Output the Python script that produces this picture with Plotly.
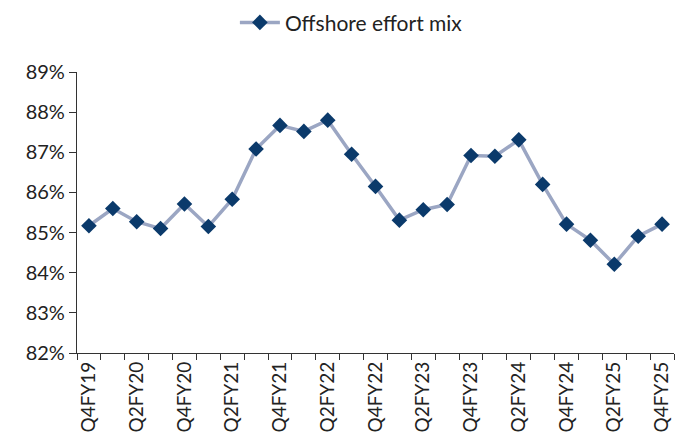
import plotly.graph_objects as go

quarters = ["Q4FY19", "Q1FY20", "Q2FY20", "Q3FY20", "Q4FY20", "Q1FY21", "Q2FY21", "Q3FY21",
            "Q4FY21", "Q1FY22", "Q2FY22", "Q3FY22", "Q4FY22", "Q1FY23", "Q2FY23", "Q3FY23",
            "Q4FY23", "Q1FY24", "Q2FY24", "Q3FY24", "Q4FY24", "Q1FY25", "Q2FY25", "Q3FY25",
            "Q4FY25"]
offshore_mix = [85.17, 85.6, 85.27, 85.1, 85.71, 85.15, 85.83, 87.08,
                87.67, 87.52, 87.8, 86.95, 86.15, 85.31, 85.57, 85.7,
                86.92, 86.9, 87.31, 86.2, 85.21, 84.81, 84.21, 84.91,
                85.21]
series_name = "Offshore effort mix"

idx = list(range(len(quarters)))
label_idx = idx[::2]
label_text = [quarters[i] for i in label_idx]

FONT = "Lato"
fig = go.Figure()
fig.add_trace(go.Scatter(
    x=idx, y=offshore_mix, name=series_name, mode="lines+markers",
    line=dict(color="#9ba6c3", width=3.5),
    marker=dict(symbol="diamond", size=12, color="#0b3a6b"),
))

fig.update_layout(
    width=689, height=446,
    margin=dict(l=77, r=15, t=72, b=93),
    paper_bgcolor="white", plot_bgcolor="white",
    font=dict(family=FONT, color="#222222", size=19),
    showlegend=True,
    legend=dict(orientation="h", xref="container", x=0.51, xanchor="center",
                yref="container", y=0.995, yanchor="top",
                font=dict(size=21, color="#222222"), itemwidth=40),
    xaxis=dict(
        range=[-0.5, len(quarters) - 0.5],
        tickmode="array", tickvals=label_idx, ticktext=label_text,
        tickangle=-90, ticks="outside", ticklen=0,
        showline=True, linecolor="#333333", linewidth=1.2,
        showgrid=False, zeroline=False,
        tickfont=dict(size=19, color="#222222"),
        minor=dict(ticks="outside", ticklen=6, tickcolor="#333333",
                   tick0=-0.5, dtick=1, showgrid=False),
    ),
    yaxis=dict(
        range=[82, 89], dtick=1, tick0=82, ticksuffix="%",
        ticks="outside", ticklen=7, tickcolor="#333333",
        showline=True, linecolor="#333333", linewidth=1.2,
        showgrid=False, zeroline=False,
        tickfont=dict(size=20, color="#222222"),
    ),
)

fig.write_html("out.html")
